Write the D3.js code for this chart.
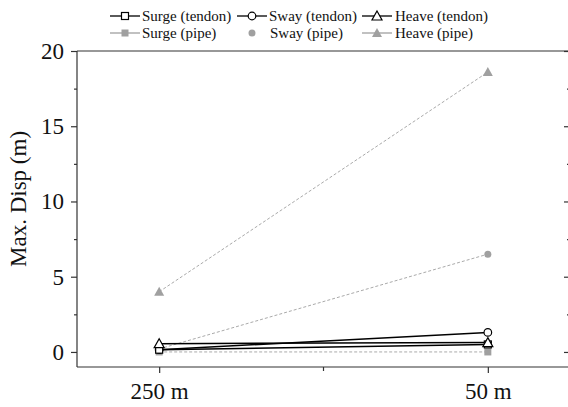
<!DOCTYPE html>
<html><head><meta charset="utf-8">
<script src="https://cdn.jsdelivr.net/npm/d3@7"></script>
<style>body{margin:0;background:#fff}svg{display:block}text{font-family:"Liberation Serif","Times New Roman",serif;fill:#111}</style>
</head><body><svg id="c" width="568" height="407"></svg>
<script>
const categories = ["250 m", "50 m"];
const surgeTendon = [0.15, 0.5];
const swayTendon = [0.15, 1.3];
const heaveTendon = [0.55, 0.62];
const surgePipe = [0.0, 0.0];
const swayPipe = [0.2, 6.5];
const heavePipe = [4.0, 18.6];
const yTicks = [0, 5, 10, 15, 20];
const yMinorTicks = [2.5, 7.5, 12.5, 17.5];
const legendNames = ["Surge (tendon)", "Sway (tendon)", "Heave (tendon)", "Surge (pipe)", "Sway (pipe)", "Heave (pipe)"];

const BLACK = "#000", GRAY = "#a0a0a0";
const series = [
  {name: legendNames[5], values: heavePipe, color: GRAY, marker: "triFill", dash: "3,2", lw: 1, legendLine: true},
  {name: legendNames[4], values: swayPipe, color: GRAY, marker: "dot", dash: "3,2", lw: 1, legendLine: false},
  {name: legendNames[3], values: surgePipe, color: GRAY, marker: "sqFill", dash: "3,2", lw: 1, legendLine: true},
  {name: legendNames[1], values: swayTendon, color: BLACK, marker: "circ", dash: null, lw: 1.5, legendLine: true},
  {name: legendNames[0], values: surgeTendon, color: BLACK, marker: "sq", dash: null, lw: 1.5, legendLine: true},
  {name: legendNames[2], values: heaveTendon, color: BLACK, marker: "tri", dash: null, lw: 1.5, legendLine: true}
];

const svg = d3.select("#c");
const L = 77, T = 51, R = 570, B = 367;
const x = d3.scalePoint().domain(categories).range([L, R]).padding(0.25);
const y = d3.scaleLinear().domain([-1, 20]).range([B, T]);
const axisColor = "#333";

// frame
svg.append("line").attr("x1", L).attr("x2", R).attr("y1", T).attr("y2", T).attr("stroke", axisColor).attr("stroke-width", 1.2);

// left axis
const gl = svg.append("g").attr("transform", `translate(${L},0)`)
  .call(d3.axisLeft(y).tickValues(yTicks).tickSize(6).tickPadding(7).tickFormat(d3.format("d")));
gl.append("g").call(d3.axisLeft(y).tickValues(yMinorTicks).tickSize(3).tickFormat(""));
gl.selectAll(".domain").remove();
gl.append("line").attr("y1", T).attr("y2", B).attr("stroke", axisColor).attr("stroke-width", 1.2);
gl.selectAll(".tick line").attr("stroke", axisColor).attr("stroke-width", 1.2);
gl.selectAll(".tick text").attr("font-size", 23).attr("font-family", '"Liberation Serif",serif').attr("fill", "#111");

// right axis (inward ticks)
const gr = svg.append("g").attr("transform", `translate(${R},0)`)
  .call(d3.axisLeft(y).tickValues(yTicks).tickSize(6).tickFormat(""));
gr.append("g").call(d3.axisLeft(y).tickValues(yMinorTicks).tickSize(3).tickFormat(""));
gr.selectAll(".domain").remove();
gr.append("line").attr("y1", T).attr("y2", B).attr("stroke", axisColor).attr("stroke-width", 1.2);
gr.selectAll(".tick line").attr("stroke", axisColor).attr("stroke-width", 1.2);

// bottom axis
const gb = svg.append("g").attr("transform", `translate(0,${B})`)
  .call(d3.axisBottom(x).tickSize(6).tickPadding(6));
gb.selectAll(".domain").remove();
gb.append("line").attr("x1", L).attr("x2", R).attr("stroke", axisColor).attr("stroke-width", 1.2);
gb.append("line").attr("x1", (L + R) / 2).attr("x2", (L + R) / 2).attr("y1", 0).attr("y2", 4).attr("stroke", axisColor).attr("stroke-width", 1.2);
gb.selectAll(".tick line").attr("stroke", axisColor).attr("stroke-width", 1.2);
gb.selectAll(".tick text").attr("font-size", 23).attr("font-family", '"Liberation Serif",serif').attr("fill", "#111").attr("dy", "0.85em");

// y label
svg.append("text").attr("transform", `translate(26,199) rotate(-90)`).attr("text-anchor", "middle")
  .attr("font-size", 23).text("Max. Disp (m)");

function drawMarker(g, type, cx, cy, color) {
  if (type === "tri" || type === "triFill") {
    const s = type === "tri" ? 5 : 5;
    g.append("path").attr("d", `M${cx},${cy - s}L${cx + s},${cy + s * 0.8}L${cx - s},${cy + s * 0.8}Z`)
      .attr("fill", type === "tri" ? "#fff" : color).attr("stroke", type === "tri" ? color : "none").attr("stroke-width", 1.2);
  } else if (type === "sq" || type === "sqFill") {
    const s = 3.5;
    g.append("rect").attr("x", cx - s).attr("y", cy - s).attr("width", 2 * s).attr("height", 2 * s)
      .attr("fill", type === "sq" ? "#fff" : color).attr("stroke", type === "sq" ? color : "none").attr("stroke-width", 1.2);
  } else if (type === "circ") {
    g.append("circle").attr("cx", cx).attr("cy", cy).attr("r", 3.8).attr("fill", "#fff").attr("stroke", color).attr("stroke-width", 1.2);
  } else if (type === "dot") {
    g.append("circle").attr("cx", cx).attr("cy", cy).attr("r", 3.5).attr("fill", color);
  }
}

const line = d3.line().x((d, i) => x(categories[i])).y(d => y(d));
const plot = svg.append("g");
series.forEach(s => {
  plot.append("path").datum(s.values).attr("d", line).attr("fill", "none")
    .attr("stroke", s.dash ? "#aaa" : s.color).attr("stroke-width", s.lw).attr("stroke-dasharray", s.dash);
});
series.forEach(s => {
  s.values.forEach((v, i) => drawMarker(plot, s.marker, x(categories[i]), y(v), s.color));
});

// legend
const legendPos = [
  {name: legendNames[0], lx: 110, ty: 16, tx: 142},
  {name: legendNames[1], lx: 237, ty: 16, tx: 269},
  {name: legendNames[2], lx: 362, ty: 16, tx: 395},
  {name: legendNames[3], lx: 110, ty: 33, tx: 142},
  {name: legendNames[4], lx: 237, ty: 33, tx: 270},
  {name: legendNames[5], lx: 362, ty: 33, tx: 395}
];
const lg = svg.append("g");
legendPos.forEach(p => {
  const s = series.find(d => d.name === p.name);
  if (s.legendLine) {
    lg.append("line").attr("x1", p.lx).attr("x2", p.lx + 30).attr("y1", p.ty).attr("y2", p.ty)
      .attr("stroke", s.color).attr("stroke-width", 1.3);
  }
  drawMarker(lg, s.marker, p.lx + 15, p.ty, s.color);
  lg.append("text").attr("x", p.tx).attr("y", p.ty + 5).attr("font-size", 15).text(p.name);
});
</script></body></html>
